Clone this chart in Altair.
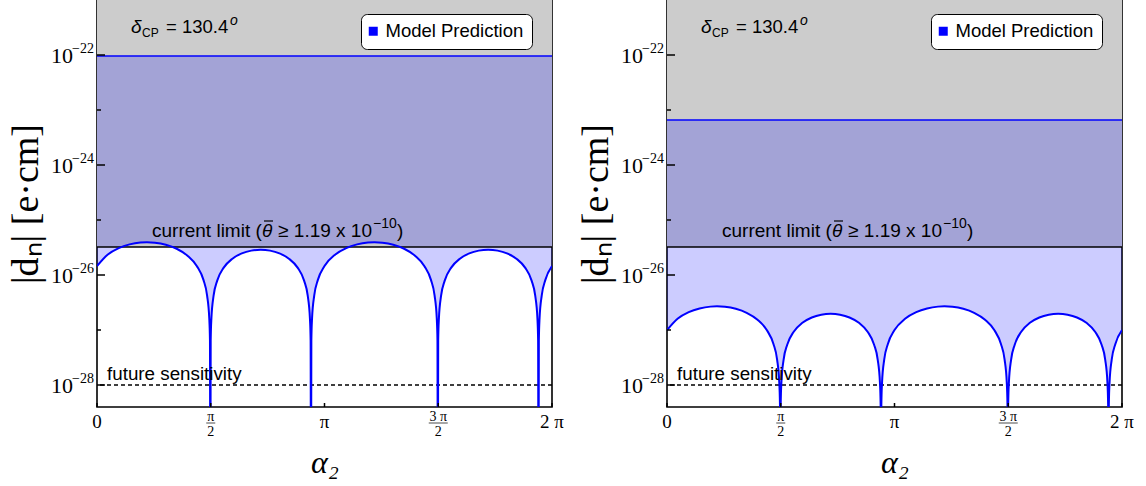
import altair as alt
import pandas as pd
import numpy as np

PI = float(np.pi)

# ---------------- data ----------------
# alpha_2 sample positions (radians)
alpha = [0.0, 0.15, 0.30, 0.45, 0.60, 0.69, 0.80, 0.95, 1.10, 1.25, 1.38, 1.47, 1.52, 1.55, 1.56, 1.565,
         1.57, 1.58, 1.61, 1.66, 1.75, 1.87, 2.00, 2.13, 2.26, 2.39, 2.52, 2.65, 2.77, 2.86, 2.91, 2.94, 2.95, 2.955,
         2.96, 2.97, 3.00, 3.05, 3.1416,
         3.2916, 3.4416, 3.5916, 3.7416, 3.8316, 3.9416, 4.0916, 4.2416, 4.3916, 4.5216, 4.6116, 4.6616, 4.6916, 4.7016, 4.7066,
         4.7116, 4.7216, 4.7516, 4.8016, 4.8916, 5.0116, 5.1416, 5.2716, 5.4016, 5.5316, 5.6616, 5.7916, 5.9116, 6.0016, 6.0516, 6.0816, 6.0916, 6.0966,
         6.1016, 6.1116, 6.1416, 6.1916, 6.2832]

# log10 |d_n| of the model curve, left panel
logdn_left = [-25.837, -25.626, -25.510, -25.443, -25.410, -25.405, -25.413, -25.450, -25.523, -25.649, -25.840, -26.089, -26.370, -26.782, -27.193, -31.0,
              -27.193, -26.784, -26.376, -26.102, -25.866, -25.703, -25.607, -25.557, -25.541, -25.557, -25.607, -25.703, -25.866, -26.102, -26.376, -26.784, -27.193, -31.0,
              -27.193, -26.782, -26.370, -26.089, -25.837,
              -25.626, -25.510, -25.443, -25.410, -25.405, -25.413, -25.450, -25.523, -25.649, -25.840, -26.089, -26.370, -26.782, -27.193, -31.0,
              -27.193, -26.784, -26.376, -26.102, -25.866, -25.703, -25.607, -25.557, -25.541, -25.557, -25.607, -25.703, -25.866, -26.102, -26.376, -26.784, -27.193, -31.0,
              -27.193, -26.782, -26.370, -26.089, -25.837]

# log10 |d_n| of the model curve, right panel
logdn_right = [-27.002, -26.791, -26.675, -26.608, -26.575, -26.570, -26.578, -26.615, -26.688, -26.814, -27.005, -27.254, -27.535, -27.947, -28.358, -31.0,
               -28.358, -27.949, -27.541, -27.267, -27.031, -26.868, -26.772, -26.722, -26.706, -26.722, -26.772, -26.868, -27.031, -27.267, -27.541, -27.949, -28.358, -31.0,
               -28.358, -27.947, -27.535, -27.254, -27.002,
               -26.791, -26.675, -26.608, -26.575, -26.570, -26.578, -26.615, -26.688, -26.814, -27.005, -27.254, -27.535, -27.947, -28.358, -31.0,
               -28.358, -27.949, -27.541, -27.267, -27.031, -26.868, -26.772, -26.722, -26.706, -26.722, -26.772, -26.868, -27.031, -27.267, -27.541, -27.949, -28.358, -31.0,
               -28.358, -27.947, -27.535, -27.254, -27.002]

upper_left = -22.02      # upper edge of model band (log10)
upper_right = -23.18
current_limit = -25.49
future_sens = -28.0

y_major = [-28, -26, -24, -22]
y_major_sup = ["\u221228", "\u221226", "\u221224", "\u221222"]
y_minor = [-27, -25, -23]
x_simple = [0.0, PI, 2 * PI]
x_simple_txt = ["0", "\u03c0", "2 \u03c0"]
x_frac = [PI / 2, 3 * PI / 2]
x_frac_num = ["\u03c0", "3 \u03c0"]
x_frac_den = ["2", "2"]
legend_label = ["Model Prediction"]

# ---------------- styling ----------------
W, H = 455, 407
YMIN, YMAX = -28.4, -21.0
SERIF = "Liberation Serif"
SANS = "Liberation Sans"
BLUE = "#0000ff"

xs = alt.Scale(domain=[0, 2 * PI], nice=False, zero=False)
ys = alt.Scale(domain=[YMIN, YMAX], nice=False, zero=False)
X = alt.X("a:Q", scale=xs,
          axis=alt.Axis(title="\u03b1\u2082", labels=False, ticks=False, domain=False, grid=False,
                        titleFont=SERIF, titleFontSize=32, titleFontStyle="italic",
                        titleFontWeight="normal", titlePadding=40, titleColor="black"))
Y = alt.Y("v:Q", scale=ys,
          axis=alt.Axis(title="|d\u2099| [e\u00b7cm]", labels=False, ticks=False, domain=False, grid=False,
                        titleFont=SERIF, titleFontSize=38, titleFontWeight="normal",
                        titlePadding=52, titleColor="black"))

one = pd.DataFrame({"k": [0]})


def txt(s, x, y, size, style="normal", font=SANS, align="left"):
    return alt.Chart(one).mark_text(text=s, font=font, fontSize=size, fontStyle=style,
                                    align=align, baseline="alphabetic", color="black").encode(
        x=alt.value(x), y=alt.value(y))


def panel(vals, upper):
    df = pd.DataFrame({"a": alpha, "v": vals})
    gray = alt.Chart(pd.DataFrame({"a": [0.0], "a2": [2 * PI], "v": [current_limit], "v2": [YMAX]})).mark_rect(
        color="#cccccc").encode(x=X, x2="a2:Q", y=Y, y2="v2:Q")
    band = alt.Chart(df).mark_area(color=BLUE, opacity=0.2, clip=True, interpolate="monotone").encode(
        x=X, y=Y, y2=alt.datum(upper))
    up_line = alt.Chart(pd.DataFrame({"v": [upper]})).mark_rule(color=BLUE, strokeWidth=1.5).encode(y=Y)
    lim_line = alt.Chart(pd.DataFrame({"v": [current_limit]})).mark_rule(color="black", strokeWidth=1.5).encode(y=Y)
    fut_line = alt.Chart(pd.DataFrame({"v": [future_sens]})).mark_rule(
        color="black", strokeWidth=1.5, strokeDash=[4, 3]).encode(y=Y)
    curve = alt.Chart(df).mark_line(color=BLUE, strokeWidth=2, clip=True, interpolate="monotone").encode(x=X, y=Y)

    ytk = alt.Chart(pd.DataFrame({"v": y_major})).mark_rule(color="black", strokeWidth=1.5).encode(
        y=Y, x=alt.value(0), x2=alt.value(8))
    ytk_minor = alt.Chart(pd.DataFrame({"v": y_minor})).mark_rule(color="black", strokeWidth=1.5).encode(
        y=Y, x=alt.value(0), x2=alt.value(4))
    xtk = alt.Chart(pd.DataFrame({"a": x_simple + x_frac})).mark_rule(color="black", strokeWidth=1.5).encode(
        x=X, y=alt.value(H), y2=alt.value(H - 4))

    ylab_df = pd.DataFrame({"v": y_major, "sup": y_major_sup})
    ylab10 = alt.Chart(ylab_df).mark_text(text="10", font=SERIF, fontSize=22, align="right",
                                          baseline="alphabetic", dy=8, color="black").encode(
        y=Y, x=alt.value(-24))
    ylabsup = alt.Chart(ylab_df).mark_text(font=SERIF, fontSize=14, align="right",
                                           baseline="alphabetic", dy=-2, color="black").encode(
        y=Y, x=alt.value(-3), text="sup:N")

    xlab = alt.Chart(pd.DataFrame({"a": x_simple, "t": x_simple_txt})).mark_text(
        font=SERIF, fontSize=19, align="center", baseline="alphabetic", color="black").encode(
        x=X, y=alt.value(428), text="t:N")
    frac_df = pd.DataFrame({"a": x_frac, "n": x_frac_num, "d": x_frac_den, "w": [9, 19]})
    xnum = alt.Chart(frac_df).mark_text(font=SERIF, fontSize=14, align="center", baseline="alphabetic",
                                        color="black").encode(x=X, y=alt.value(421), text="n:N")
    xden = alt.Chart(frac_df).mark_text(font=SERIF, fontSize=14, align="center", baseline="alphabetic",
                                        color="black").encode(x=X, y=alt.value(436), text="d:N")
    xbar = alt.Chart(frac_df).mark_tick(orient="horizontal", thickness=1, color="black").encode(
        x=X, y=alt.value(423), size=alt.Size("w:Q", scale=None, legend=None))

    leg = alt.Chart(pd.DataFrame({"a": [-1.0], "v": [-25.0], "k": legend_label})).mark_square(
        size=81, filled=True, opacity=1, clip=True).encode(
        x=X, y=Y,
        color=alt.Color("k:N", scale=alt.Scale(range=[BLUE]),
                        legend=alt.Legend(title=None, orient="none", legendX=264, legendY=14,
                                          fillColor="white", strokeColor="black", cornerRadius=6,
                                          padding=8, labelFont=SANS, labelFontSize=18.5,
                                          labelColor="black", symbolSize=81, labelOffset=3,
                                          symbolOffset=-5, symbolStrokeWidth=0, symbolType="square")))

    theta_bar = alt.Chart(one).mark_rule(color="black", strokeWidth=1.2).encode(
        x=alt.value(167), x2=alt.value(176), y=alt.value(221))

    notes = [
        txt("\u03b4", 34, 33, 19, style="italic"),
        txt("CP", 45, 37, 12),
        txt("= 130.4", 69, 33, 18.5),
        txt("o", 133, 25, 14, style="italic"),
        txt("current limit (", 55, 237, 19),
        txt("\u03b8", 165, 237, 19, style="italic"),
        txt(" \u2265 1.19 x 10", 275, 237, 19, align="right"),
        txt("\u221210", 276, 228, 14),
        txt(")", 300, 237, 19),
        txt("future sensitivity", 10, 380, 18.8),
    ]

    return alt.layer(gray, band, up_line, lim_line, fut_line, curve, ytk, ytk_minor, xtk,
                     ylab10, ylabsup, xlab, xnum, xden, xbar, leg, theta_bar, *notes).properties(width=W, height=H)


left = panel(logdn_left, upper_left)
right = panel(logdn_right, upper_right)

chart = alt.hconcat(left, right, spacing=115, bounds="flush").resolve_scale(
    color="independent").properties(
    autosize=alt.AutoSizeParams(type="none"),
    padding={"left": 97, "top": 0, "right": 1049, "bottom": 486},
).configure_view(stroke="black", strokeWidth=1.6)

chart.save("out.html", embed_options={"renderer": "svg", "actions": False})
